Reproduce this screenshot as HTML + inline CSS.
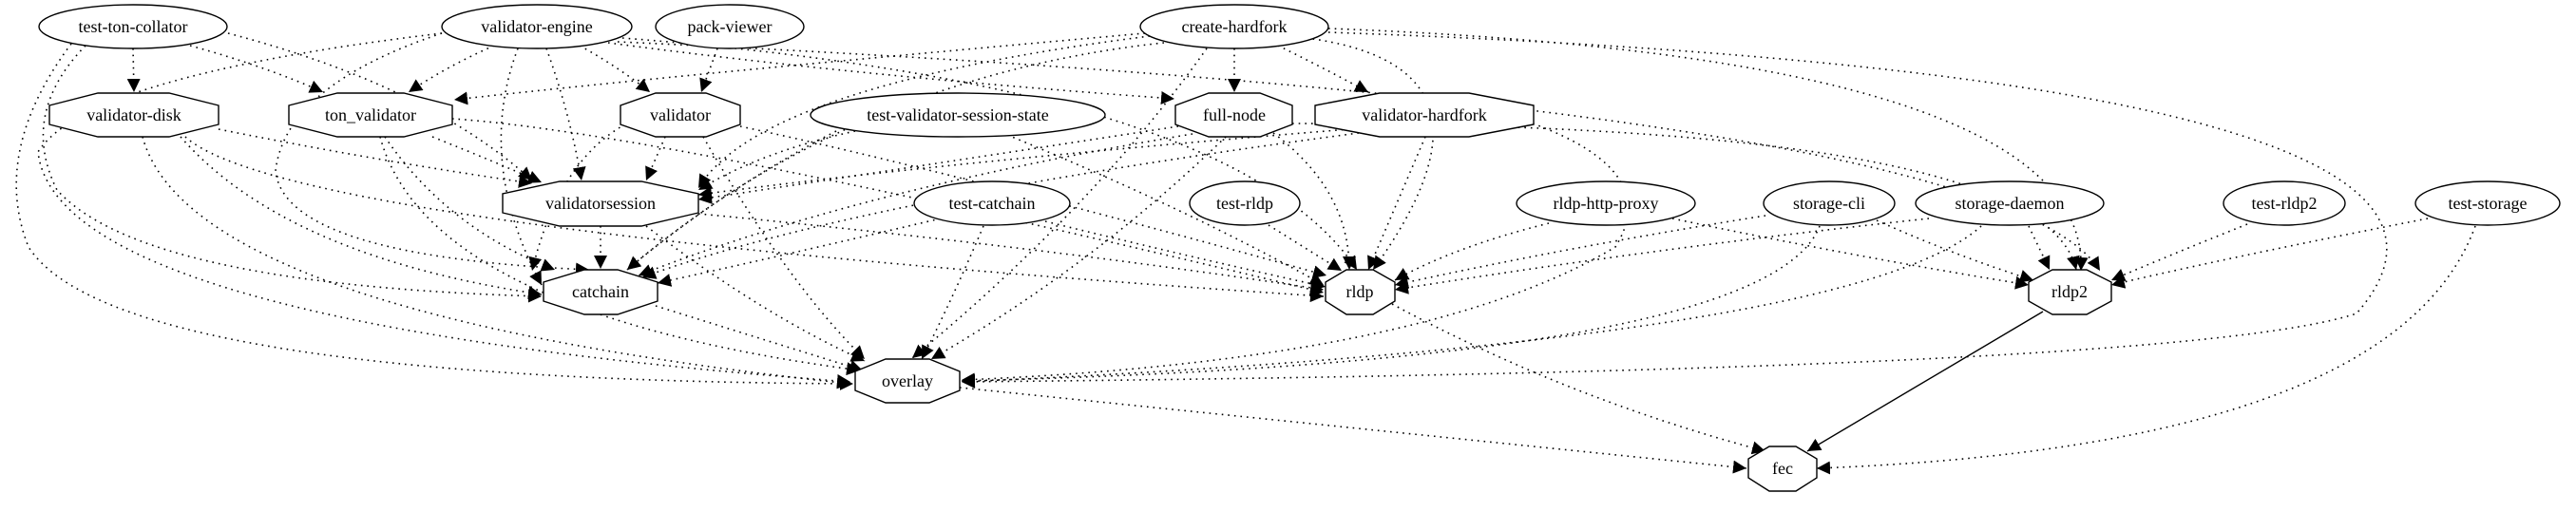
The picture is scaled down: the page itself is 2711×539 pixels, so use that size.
<!DOCTYPE html>
<html><head><meta charset="utf-8"><style>
html,body{margin:0;padding:0;background:#fff;}
svg{display:block;}
text{font-family:"Liberation Serif",serif;font-size:18px;text-anchor:middle;fill:#000;}
.e{fill:none;stroke:#000;stroke-width:1.6;stroke-dasharray:1.6,5;}
.s{fill:none;stroke:#000;stroke-width:1.4;}
.n{fill:#fff;stroke:#000;stroke-width:1.4;}
</style></head><body>
<svg width="2711" height="539" viewBox="0 0 2711 539" xmlns="http://www.w3.org/2000/svg">
<defs>
<marker id="a" viewBox="0 0 10 10" refX="10" refY="5" markerWidth="14" markerHeight="14" markerUnits="userSpaceOnUse" orient="auto">
<path d="M0,0 L10,5 L0,10 z" fill="#000"/></marker>
</defs>
<g marker-end="url(#a)">
<!-- test-ton-collator -->
<path class="e" d="M140,51 L141,97"/>
<path class="e" d="M200,48 Q280,70 340,97"/>
<path class="e" d="M240,35 Q450,90 560,190"/>
<path class="e" d="M90,48 Q20,120 60,200 Q150,300 570,312"/>
<path class="e" d="M75,46 Q-10,160 30,260 Q120,400 898,404"/>
<!-- validator-engine -->
<path class="e" d="M520,48 Q470,70 430,97"/>
<path class="e" d="M575,51 Q600,120 612,190"/>
<path class="e" d="M610,48 Q650,70 684,97"/>
<path class="e" d="M545,51 Q500,170 570,300"/>
<path class="e" d="M465,35 Q90,80 40,160 Q60,340 895,402"/>
<path class="e" d="M640,45 Q900,80 1236,104"/>
<path class="e" d="M655,40 Q1300,90 1428,284"/>
<path class="e" d="M650,44 Q2100,110 2210,285"/>
<path class="e" d="M465,35 Q300,90 290,180 Q300,270 620,284"/>
<!-- pack-viewer -->
<path class="e" d="M755,51 L738,97"/>
<!-- validator-disk -->
<path class="e" d="M230,136 Q400,170 560,193"/>
<path class="e" d="M190,144 Q300,270 570,310"/>
<path class="e" d="M150,144 Q200,330 895,404"/>
<path class="e" d="M195,144 Q300,240 1393,312"/>
<!-- ton_validator -->
<path class="e" d="M455,144 Q520,170 570,192"/>
<path class="e" d="M405,144 Q470,240 584,284"/>
<path class="e" d="M400,144 Q450,330 905,390"/>
<path class="e" d="M476,125 Q700,140 1393,308"/>
<!-- validator -->
<path class="e" d="M700,144 L680,190"/>
<path class="e" d="M670,125 Q590,160 560,285"/>
<path class="e" d="M740,144 Q830,300 910,378"/>
<path class="e" d="M779,133 Q1000,180 1396,290"/>
<!-- validatorsession -->
<path class="e" d="M632,238 L632,283"/>
<path class="e" d="M680,238 Q800,330 910,380"/>
<path class="e" d="M735,225 Q1100,260 1393,305"/>
<!-- catchain -->
<path class="e" d="M690,322 L908,390"/>
<!-- create-hardfork -->
<path class="e" d="M1299,51 L1299,97"/>
<path class="e" d="M1345,48 Q1390,70 1440,97"/>
<path class="e" d="M1210,38 Q800,90 735,198"/>
<path class="e" d="M1205,35 Q700,80 478,105"/>
<path class="e" d="M1225,45 Q900,80 660,284"/>
<path class="e" d="M1270,51 Q1150,220 960,377"/>
<path class="e" d="M1375,40 Q1600,70 1445,284"/>
<path class="e" d="M1398,30 Q2200,60 2190,285"/>
<path class="e" d="M1398,34 Q2700,80 2480,330 Q2300,390 1012,402"/>
<!-- test-validator-session-state -->
<path class="e" d="M900,138 Q800,160 735,200"/>
<path class="e" d="M880,138 Q760,200 660,284"/>
<path class="e" d="M1060,142 Q1250,220 1393,300"/>
<!-- full-node -->
<path class="e" d="M1240,133 Q1000,170 735,210"/>
<path class="e" d="M1255,141 Q900,200 672,290"/>
<path class="e" d="M1290,144 Q1150,280 980,378"/>
<path class="e" d="M1340,140 Q1420,200 1420,284"/>
<path class="e" d="M1360,130 Q2150,130 2185,284"/>
<!-- validator-hardfork -->
<path class="e" d="M1420,136 Q1000,170 735,205"/>
<path class="e" d="M1430,140 Q900,210 676,292"/>
<path class="e" d="M1500,144 L1440,284"/>
<path class="e" d="M1613,130 Q1750,180 1700,260 Q1500,380 1012,400"/>
<!-- test-catchain -->
<path class="e" d="M990,230 Q820,270 692,298"/>
<path class="e" d="M1035,238 Q1000,320 970,378"/>
<path class="e" d="M1100,233 Q1250,270 1395,302"/>
<!-- test-rldp -->
<path class="e" d="M1335,237 L1412,285"/>
<!-- rldp-http-proxy -->
<path class="e" d="M1630,235 Q1530,260 1468,295"/>
<path class="e" d="M1760,230 Q1950,270 2135,300"/>
<!-- storage-cli -->
<path class="e" d="M1858,227 Q1650,260 1468,300"/>
<path class="e" d="M1975,232 Q2060,270 2140,295"/>
<path class="e" d="M1915,238 Q1860,380 1012,401"/>
<!-- storage-daemon -->
<path class="e" d="M2030,230 Q1750,260 1468,305"/>
<path class="e" d="M2135,238 L2157,284"/>
<path class="e" d="M2085,238 Q1950,360 1012,402"/>
<!-- test-rldp2 -->
<path class="e" d="M2365,236 Q2280,270 2222,295"/>
<!-- test-storage -->
<path class="e" d="M2555,230 Q2350,270 2222,300"/>
<path class="e" d="M2605,238 Q2520,470 1912,493"/>
<!-- rldp -->
<path class="e" d="M1465,320 Q1650,420 1858,475"/>
<!-- overlay -->
<path class="e" d="M1010,408 L1838,493"/>
<!-- rldp2 -->
<path class="s" d="M2150,328 L1902,475"/>
</g>
<!-- nodes -->
<ellipse class="n" cx="140" cy="28" rx="99" ry="23"/><text x="140" y="34">test-ton-collator</text>
<ellipse class="n" cx="565" cy="28" rx="100" ry="23"/><text x="565" y="34">validator-engine</text>
<ellipse class="n" cx="768" cy="28" rx="78" ry="23"/><text x="768" y="34">pack-viewer</text>
<ellipse class="n" cx="1299" cy="28" rx="99" ry="23"/><text x="1299" y="34">create-hardfork</text>
<ellipse class="n" cx="1008" cy="121" rx="155" ry="23"/><text x="1008" y="127">test-validator-session-state</text>
<ellipse class="n" cx="1044" cy="214" rx="82" ry="23"/><text x="1044" y="220">test-catchain</text>
<ellipse class="n" cx="1310" cy="214" rx="58" ry="23"/><text x="1310" y="220">test-rldp</text>
<ellipse class="n" cx="1690" cy="214" rx="94" ry="23"/><text x="1690" y="220">rldp-http-proxy</text>
<ellipse class="n" cx="1925" cy="214" rx="69" ry="23"/><text x="1925" y="220">storage-cli</text>
<ellipse class="n" cx="2115" cy="214" rx="99" ry="23"/><text x="2115" y="220">storage-daemon</text>
<ellipse class="n" cx="2404" cy="214" rx="64" ry="23"/><text x="2404" y="220">test-rldp2</text>
<ellipse class="n" cx="2618" cy="214" rx="76" ry="23"/><text x="2618" y="220">test-storage</text>
<!-- octagons -->
<polygon class="n" points="103,98 178,98 230,111 230,131 178,144 103,144 52,131 52,111"/><text x="141" y="127">validator-disk</text>
<polygon class="n" points="355,98 425,98 476,111 476,131 425,144 355,144 304,131 304,111"/><text x="390" y="127">ton_validator</text>
<polygon class="n" points="690,98 743,98 779,111 779,131 743,144 690,144 653,131 653,111"/><text x="716" y="127">validator</text>
<polygon class="n" points="1272,98 1326,98 1360,111 1360,131 1326,144 1272,144 1237,131 1237,111"/><text x="1299" y="127">full-node</text>
<polygon class="n" points="1452,98 1546,98 1614,111 1614,131 1546,144 1452,144 1384,131 1384,111"/><text x="1499" y="127">validator-hardfork</text>
<polygon class="n" points="589,191 675,191 735,204 735,224 675,238 589,238 529,224 529,204"/><text x="632" y="220">validatorsession</text>
<polygon class="n" points="615,284 650,284 692,297 692,317 650,331 615,331 572,317 572,297"/><text x="632" y="313">catchain</text>
<polygon class="n" points="1417,284 1445,284 1468,297 1468,317 1445,331 1417,331 1395,317 1395,297"/><text x="1431" y="313">rldp</text>
<polygon class="n" points="2160,284 2196,284 2222,297 2222,317 2196,331 2160,331 2135,317 2135,297"/><text x="2178" y="313">rldp2</text>
<polygon class="n" points="932,378 978,378 1010,391 1010,411 978,424 932,424 900,411 900,391"/><text x="955" y="407">overlay</text>
<polygon class="n" points="1862,470 1890,470 1912,483 1912,503 1890,517 1862,517 1840,503 1840,483"/><text x="1876" y="499">fec</text>
</svg>
</body></html>
